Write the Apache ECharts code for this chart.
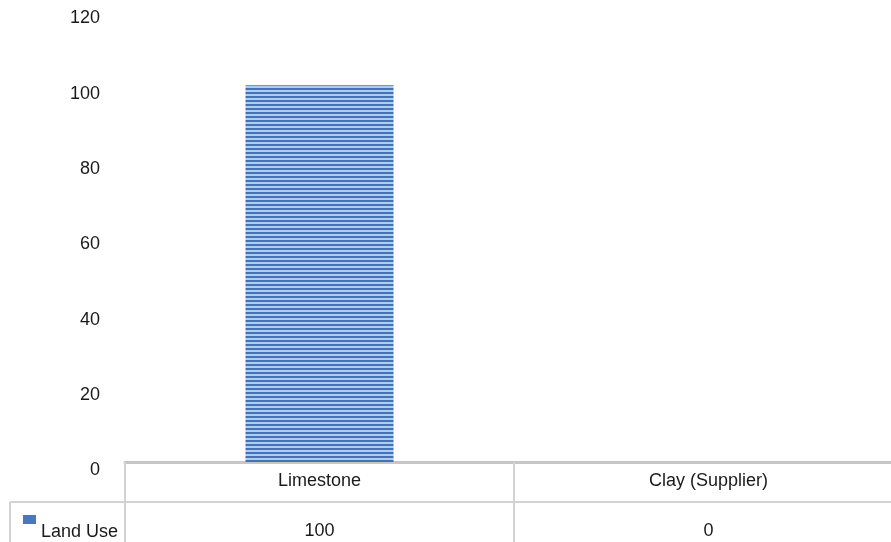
<!DOCTYPE html>
<html>
<head>
<meta charset="utf-8">
<title>Land Use</title>
<script src="https://cdn.jsdelivr.net/npm/echarts@6/dist/echarts.min.js"></script>
<style>
  html, body { margin: 0; padding: 0; background: #fff; overflow: hidden; }
  /* last table column runs past the right edge in the original, so the canvas is wider than the window */
  #chart { width: 903px; height: 542px; }
</style>
</head>
<body>
<div id="chart"></div>
<script>
// data
const categories = ['Limestone', 'Clay (Supplier)'];
const seriesName = 'Land Use';
const landUse = [100, 0];
const yTicks = [0, 20, 40, 60, 80, 100, 120];

// striped fill for the bar (dark / light blue rows)
function makeStripe() {
  const c = document.createElement('canvas');
  c.width = 4;
  c.height = 4;
  const ctx = c.getContext('2d');
  ctx.fillStyle = '#4471b8';
  ctx.fillRect(0, 0, 4, 2);
  ctx.fillStyle = '#afccef';
  ctx.fillRect(0, 2, 4, 2);
  return c;
}

const chart = echarts.init(document.getElementById('chart'));
const lineColor = '#d2d2d2';

const option = {
  animation: false,
  backgroundColor: '#ffffff',
  textStyle: { fontFamily: 'Liberation Sans, Arial, sans-serif', color: '#1a1a1a' },
  grid: { left: 125, top: 10, right: 0, height: 452, containLabel: false },
  legend: {
    data: [seriesName],
    left: 18,
    top: 510,
    icon: 'rect',
    itemWidth: 13,
    itemHeight: 9,
    itemStyle: { color: '#4a78bd' },
    formatter: function (name) {
      return '{t|' + name + '}';
    },
    textStyle: {
      fontSize: 18,
      color: '#1a1a1a',
      rich: { t: { fontSize: 18, padding: [26, 0, 0, 0] } }
    }
  },
  xAxis: {
    type: 'category',
    data: categories,
    axisLine: { show: true, lineStyle: { color: '#c6c6c6', width: 3 } },
    axisTick: { show: true, length: 80, lineStyle: { color: lineColor, width: 2 } },
    splitLine: { show: false },
    axisLabel: {
      margin: 2,
      interval: 0,
      formatter: function (value, idx) {
        return '{c|' + value + '}\n{v|' + landUse[idx] + '}';
      },
      rich: {
        c: { fontSize: 18, lineHeight: 34, color: '#1a1a1a' },
        v: { fontSize: 18, lineHeight: 66, color: '#1a1a1a' }
      }
    }
  },
  yAxis: {
    type: 'value',
    min: yTicks[0],
    max: yTicks[yTicks.length - 1],
    interval: 20,
    axisLine: { show: false },
    axisTick: { show: false },
    splitLine: { show: false },
    axisLabel: {
      fontSize: 18,
      color: '#1a1a1a',
      margin: 25,
      verticalAlign: 'top',
      lineHeight: 17
    }
  },
  graphic: [
    {
      type: 'line',
      shape: { x1: 10, y1: 502, x2: 903, y2: 502 },
      style: { stroke: lineColor, lineWidth: 2 }
    },
    {
      type: 'line',
      shape: { x1: 10, y1: 502, x2: 10, y2: 542 },
      style: { stroke: lineColor, lineWidth: 2 }
    }
  ],
  series: [
    {
      name: seriesName,
      type: 'bar',
      data: landUse,
      barWidth: 148,
      itemStyle: {
        color: { image: makeStripe(), repeat: 'repeat' }
      }
    }
  ]
};

chart.setOption(option);
</script>
</body>
</html>
